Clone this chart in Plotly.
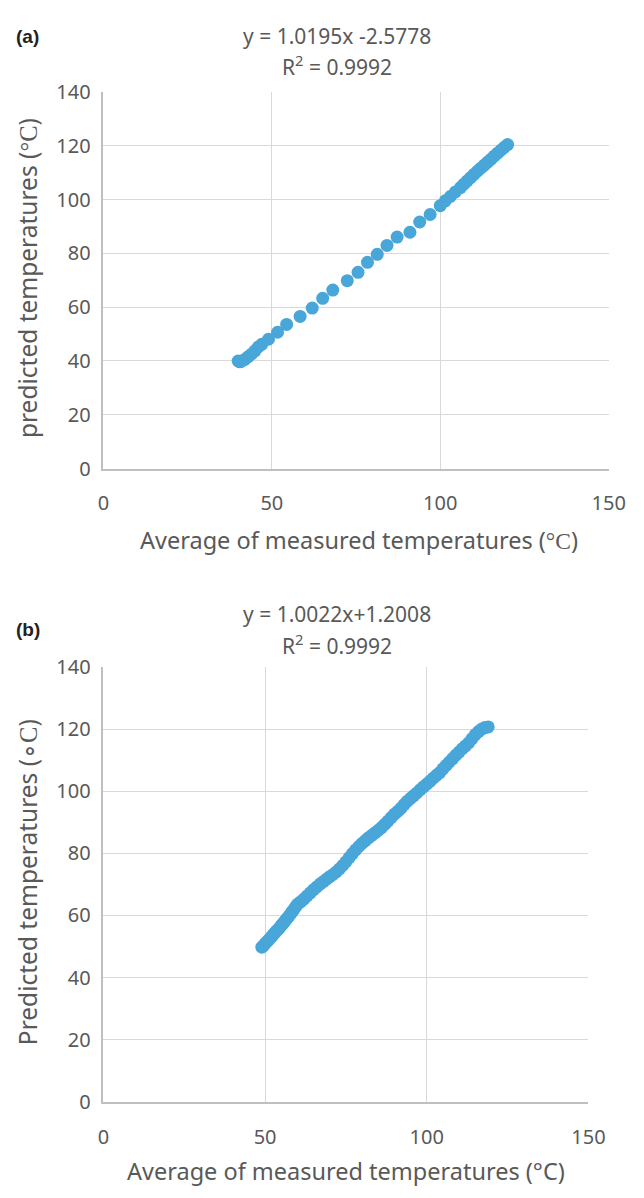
import plotly.graph_objects as go

# Panel (a) data
a_measured = [40.0, 40.5, 41.0, 42.0, 43.0, 44.0, 45.0, 46.0, 47.0, 49.0, 51.7, 54.4, 58.4,
              62.0, 65.1, 68.1, 72.4, 75.6, 78.4, 81.3, 84.2, 87.2, 91.0, 93.9, 97.0, 100.0,
              101.5, 103.0, 104.5, 106.0, 107.0, 108.0, 109.0, 110.0, 111.0, 112.0, 113.0,
              114.0, 115.0, 116.0, 117.0, 118.0, 119.0, 120.0]
a_predicted = [40.0, 39.7, 39.9, 40.6, 41.6, 42.6, 43.8, 45.2, 46.2, 48.1, 50.7, 53.6, 56.6,
               59.7, 63.3, 66.4, 69.9, 73.0, 76.7, 79.7, 83.0, 86.1, 87.9, 91.7, 94.5, 97.8,
               99.6, 101.2, 102.9, 104.5, 105.8, 107.0, 108.2, 109.4, 110.6, 111.7, 112.8,
               113.9, 115.0, 116.2, 117.3, 118.4, 119.5, 120.5]

# Panel (b) data
b_measured = [49.0, 49.5, 50.0, 50.5, 51.0, 51.5, 52.0, 52.5, 53.0, 53.5, 54.0, 54.5, 55.0,
              55.5, 56.0, 56.5, 57.0, 57.5, 58.0, 58.5, 59.0, 59.5, 60.0, 61.0, 62.0, 63.0,
              64.0, 65.0, 66.0, 67.0, 68.0, 69.0, 70.0, 71.0, 72.0, 73.0, 74.0, 75.0, 76.0,
              77.0, 78.0, 79.0, 80.0, 81.0, 82.0, 83.0, 84.0, 85.0, 86.0, 87.0, 88.0, 89.0,
              90.0, 91.0, 92.0, 93.0, 94.0, 95.0, 96.0, 97.0, 98.0, 99.0, 100.0, 101.0, 102.0,
              103.0, 104.0, 105.0, 106.0, 107.0, 108.0, 109.0, 110.0, 111.0, 112.0, 113.0,
              114.0, 115.0, 116.0, 117.0, 118.0, 119.0]
b_predicted = [49.8, 50.3, 50.9, 51.5, 52.0, 52.6, 53.2, 53.8, 54.4, 55.0, 55.5, 56.1, 56.8,
               57.4, 58.0, 58.7, 59.3, 60.0, 60.7, 61.4, 62.1, 62.9, 63.6, 64.4, 65.3, 66.3,
               67.3, 68.3, 69.2, 70.1, 70.9, 71.7, 72.5, 73.2, 74.0, 75.0, 76.1, 77.3, 78.6,
               79.9, 81.1, 82.2, 83.2, 84.1, 85.0, 85.8, 86.6, 87.4, 88.3, 89.3, 90.4, 91.5,
               92.6, 93.5, 94.5, 95.7, 96.8, 97.7, 98.6, 99.5, 100.5, 101.4, 102.3, 103.2,
               104.2, 105.1, 106.0, 107.2, 108.3, 109.4, 110.5, 111.6, 112.6, 113.7, 114.6,
               115.6, 116.9, 118.2, 119.2, 120.0, 120.5, 120.7]

x_ticks = [0, 50, 100, 150]
y_ticks = [0, 20, 40, 60, 80, 100, 120, 140]

FONT = "Noto Sans"
GREY = "#595959"
MARKER = "#48A6D9"
W, H = 644, 1198

fig = go.Figure()
fig.add_trace(go.Scatter(x=a_measured, y=a_predicted, mode="markers",
                         marker=dict(size=13, color=MARKER), xaxis="x", yaxis="y",
                         showlegend=False))
fig.add_trace(go.Scatter(x=b_measured, y=b_predicted, mode="markers",
                         marker=dict(size=13, color=MARKER), xaxis="x2", yaxis="y2",
                         showlegend=False))

def xax(domain, anchor):
    return dict(domain=domain, anchor=anchor, range=[0, 150], tickvals=x_ticks,
                showgrid=True, gridcolor="#d9d9d9", gridwidth=1.3, zeroline=False,
                showline=True, linecolor="#bfbfbf", linewidth=1.5,
                tickfont=dict(family=FONT, size=20, color=GREY), ticks="",
                ticklabelstandoff=16, fixedrange=True)

def yax(domain, anchor):
    return dict(domain=domain, anchor=anchor, range=[0, 140], tickvals=y_ticks,
                showgrid=True, gridcolor="#d9d9d9", gridwidth=1.3, zeroline=False,
                showline=True, linecolor="#bfbfbf", linewidth=1.5,
                tickfont=dict(family=FONT, size=20, color=GREY), ticks="",
                ticklabelstandoff=7, fixedrange=True)

fig.update_layout(
    width=W, height=H, margin=dict(l=0, r=0, t=0, b=0),
    paper_bgcolor="white", plot_bgcolor="white",
    xaxis=xax([101 / W, 625 / W], "y"),
    yaxis=yax([1 - 465 / H, 1 - 80 / H], "x"),
    xaxis2=xax([101 / W, 604 / W], "y2"),
    yaxis2=yax([1 - 1113 / H, 1 - 668 / H], "x2"),
)

SERIF = "<span style='font-family:Liberation Serif'>"

def ann(text, x, y, size=20, angle=0, xanchor="center", family=FONT, color=GREY):
    fig.add_annotation(text=text, x=x / W, y=1 - y / H, xref="paper", yref="paper",
                       showarrow=False, textangle=angle, xanchor=xanchor, yanchor="middle",
                       font=dict(family=family, size=size, color=color))

# panel (a)
ann("<b>(a)</b>", 8, 23, size=19, xanchor="left", family="Liberation Sans", color="#222222")
ann("y = 1.0195x -2.5778", 343, 22, size=21)
ann("R<sup>2</sup> = 0.9992", 343, 53, size=21)
ann("Average of measured temperatures (" + SERIF + "°C</span>)", 366, 538, size=23.5)
ann("predicted temperatures (" + SERIF + "°C</span>)", 23, 270, angle=-90, size=24.5)

# panel (b)
ann("<b>(b)</b>", 8, 630, size=19, xanchor="left", family="Liberation Sans", color="#222222")
ann("y = 1.0022x+1.2008", 343, 614, size=21)
ann("R<sup>2</sup> = 0.9992", 343, 645, size=21)
ann("Average of measured temperatures (°C)", 353, 1184, size=23.5)
ann("Predicted temperatures (" + SERIF + "∘C</span>)", 23, 888, angle=-90, size=24.5)

fig.write_html("out.html")
